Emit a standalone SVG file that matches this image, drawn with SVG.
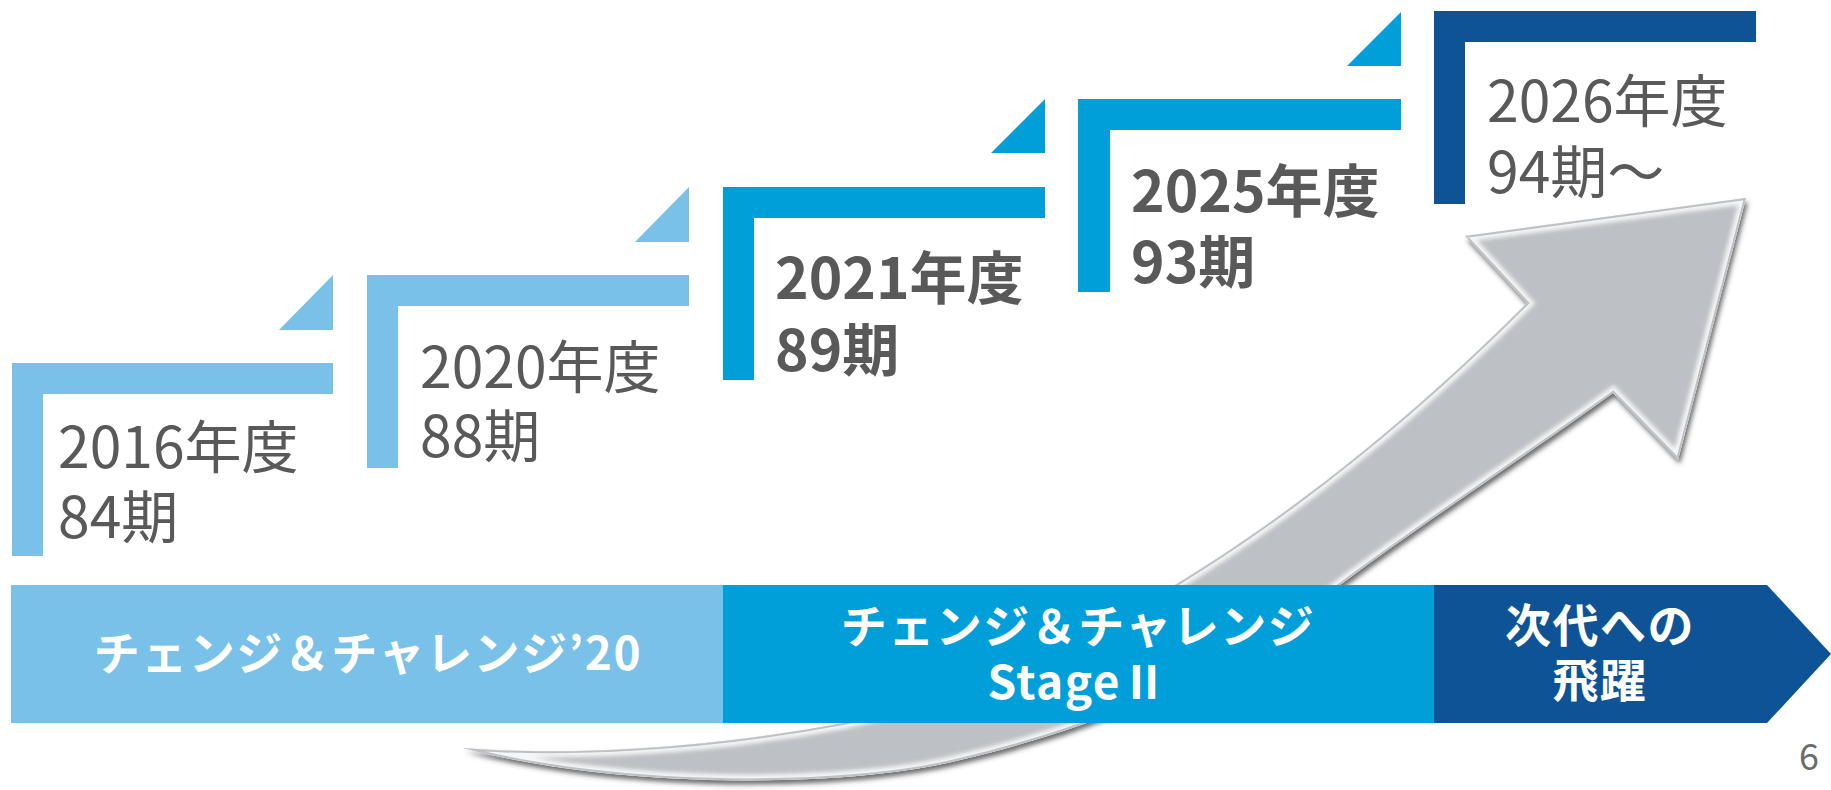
<svg xmlns="http://www.w3.org/2000/svg" width="1831" height="790" viewBox="0 0 1831 790">
  <defs>
    <style>
      .light { fill: #79C1E8; }
      .mid { fill: #009FDA; }
      .dark { fill: #0E5395; }
      .yr { font-family: "Noto Sans CJK JP", "Noto Sans", sans-serif; font-size: 57px; fill: #595959; }
      .yr-b { font-weight: bold; }
      .band { font-family: "Noto Sans CJK JP", "Noto Sans", sans-serif; font-size: 46px; font-weight: bold; fill: #FFFFFF; text-anchor: middle; letter-spacing: 1.5px; }
      .pg { font-family: "Noto Sans CJK JP", "Noto Sans", sans-serif; font-size: 36px; fill: #6B6B6B; }
    </style>
    <filter id="shadow" x="-10%" y="-10%" width="120%" height="130%">
      <feGaussianBlur in="SourceAlpha" stdDeviation="2.5"/>
      <feOffset dx="2" dy="4" result="b"/>
      <feFlood flood-color="#3C3C3C" flood-opacity="0.75"/>
      <feComposite in2="b" operator="in"/>
      <feMerge><feMergeNode/><feMergeNode in="SourceGraphic"/></feMerge>
    </filter>
    <filter id="soft" x="-10%" y="-10%" width="120%" height="120%">
      <feGaussianBlur stdDeviation="2"/>
    </filter>
    <path id="arrowShape" d="M463,748 C560,756 700,750 843,723 C960,700 1070,650 1175,585 C1270,527 1390,440 1527,303 L1465,236 L1746,198 L1678,460 L1613,393 C1520,460 1420,525 1340,585 C1230,668 1120,722 960,760 C850,788 620,790 463,748 Z"/>
    <clipPath id="arrowClip"><use href="#arrowShape"/></clipPath>
  </defs>

  <g id="growth-arrow">
    <use href="#arrowShape" fill="#BDC0C4" filter="url(#shadow)"/>
    <g clip-path="url(#arrowClip)">
      <use href="#arrowShape" fill="none" stroke="#FFFFFF" stroke-width="12" stroke-opacity="0.85" filter="url(#soft)"/>
      <use href="#arrowShape" fill="none" stroke="#BDC0C4" stroke-width="4"/>
    </g>
  </g>

  <g id="step-2016">
    <path class="light" d="M12,363 H333 V394 H43 V556 H12 Z"/>
    <path class="light" d="M279,330 L333,275 L333,330 Z"/>
    <text class="yr"><tspan x="58" y="468">2016年度</tspan><tspan x="58" y="538">84期</tspan></text>
  </g>

  <g id="step-2020">
    <path class="light" d="M367,275 H689 V306 H398 V468 H367 Z"/>
    <path class="light" d="M635,242 L689,187 L689,242 Z"/>
    <text class="yr"><tspan x="420" y="388">2020年度</tspan><tspan x="420" y="457">88期</tspan></text>
  </g>

  <g id="step-2021">
    <path class="mid" d="M723,187 H1045 V218 H754 V380 H723 Z"/>
    <path class="mid" d="M991,153 L1045,99 L1045,153 Z"/>
    <text class="yr yr-b"><tspan x="775" y="299">2021年度</tspan><tspan x="775" y="371">89期</tspan></text>
  </g>

  <g id="step-2025">
    <path class="mid" d="M1078,99 H1401 V130 H1110 V292 H1078 Z"/>
    <path class="mid" d="M1347,66 L1401,12 L1401,66 Z"/>
    <text class="yr yr-b"><tspan x="1131" y="212">2025年度</tspan><tspan x="1131" y="283">93期</tspan></text>
  </g>

  <g id="step-2026">
    <path class="dark" d="M1434,11 H1756 V42 H1465 V204 H1434 Z"/>
    <text class="yr"><tspan x="1487" y="122">2026年度</tspan><tspan x="1487" y="193">94期～</tspan></text>
  </g>

  <g id="phase-change-challenge-20">
    <rect class="light" x="11" y="585" width="712" height="138"/>
    <text class="band" x="368" y="670">チェンジ＆チャレンジ’20</text>
  </g>

  <g id="phase-stage-2">
    <rect class="mid" x="723" y="585" width="711" height="138"/>
    <text class="band"><tspan x="1078" y="643">チェンジ＆チャレンジ</tspan><tspan x="1078" y="699">StageⅡ</tspan></text>
  </g>

  <g id="phase-next">
    <path class="dark" d="M1434,585 H1767 L1831,654 L1767,723 H1434 Z"/>
    <text class="band"><tspan x="1600" y="642">次代への</tspan><tspan x="1600" y="697">飛躍</tspan></text>
  </g>

  <g id="connectors"></g>

  <text class="pg" x="1799" y="770">6</text>
</svg>
